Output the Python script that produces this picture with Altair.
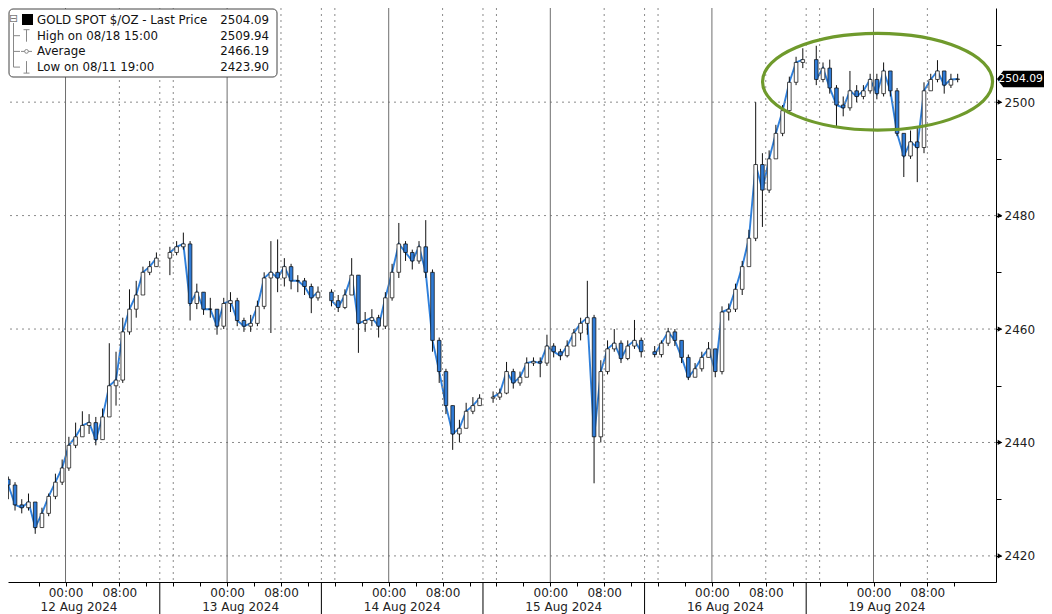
import altair as alt
import pandas as pd

# ---------------- data (hourly candles) ----------------
SESSIONS = ["12 Aug 2024", "13 Aug 2024", "14 Aug 2024", "15 Aug 2024", "16 Aug 2024", "19 Aug 2024"]
# hour offsets of each session start (15:00 the day before), weekend removed
SESSION_START_H = [0, 24, 48, 72, 96, 120]
FIRST_OPEN = 2433.5

CLOSE_12 = [2432.5, 2429.0, 2428.5, 2429.5, 2425.0, 2427.5, 2430.5, 2433.0, 2435.5, 2439.5, 2441.0, 2443.0,
            2443.5, 2440.5, 2444.5, 2450.0, 2451.0, 2459.5, 2463.5, 2466.0, 2470.0, 2471.0, 2472.5]
HIGH_12 = [2434, 2433, 2430, 2431, 2429.5, 2428.5, 2431, 2434.5, 2437, 2441, 2443.5, 2445.5,
           2445, 2444.5, 2446, 2457.5, 2456, 2462, 2467, 2468.5, 2471, 2472, 2473.5]
LOW_12 = [2430, 2428, 2427.5, 2428, 2423.9, 2425, 2427, 2430, 2432.5, 2435, 2439, 2441,
          2441.5, 2439.5, 2440.5, 2444.5, 2446.5, 2450.5, 2459, 2462, 2466, 2469.5, 2471]

CLOSE_13 = [2473.5, 2474.5, 2475.0, 2464.5, 2466.5, 2463.5, 2463.5, 2460.5, 2464.5, 2465.0, 2461.5, 2460.5,
            2461.0, 2464.0, 2469.0, 2470.0, 2469.0, 2471.0, 2468.5, 2468.5, 2467.5, 2465.5, 2466.5]
HIGH_13 = [2474.5, 2475.5, 2477.0, 2475.5, 2468, 2466.5, 2465.5, 2463.5, 2465.5, 2466.5, 2465.5, 2462,
           2462.5, 2465, 2470, 2475.5, 2475.8, 2472.5, 2471.5, 2469.5, 2469, 2468, 2467.5]
LOW_13 = [2469.5, 2473, 2474, 2461.5, 2463.5, 2462.5, 2462, 2459, 2460, 2463, 2460.5, 2459.5,
          2459.5, 2460.5, 2463.5, 2459.3, 2466.5, 2467.5, 2467, 2466.5, 2466, 2462.8, 2465]

CLOSE_14 = [2465.0, 2463.8, 2466.0, 2469.5, 2461.0, 2461.5, 2462.0, 2460.5, 2465.5, 2470.0, 2475.0, 2473.5,
            2472.0, 2474.5, 2470.0, 2458.0, 2452.5, 2446.5, 2441.5, 2442.5, 2445.5, 2446.5, 2447.8]
HIGH_14 = [2467, 2466, 2467, 2472.5, 2469.5, 2463, 2463.5, 2462.5, 2466.5, 2471.5, 2478.7, 2475.5,
           2474, 2475.5, 2479.2, 2470.5, 2458.5, 2453, 2446.5, 2444, 2447, 2448, 2448.5]
LOW_14 = [2464, 2463, 2463.5, 2466, 2455.8, 2459.5, 2460.5, 2458.5, 2460, 2465, 2469, 2472,
          2470.5, 2471.5, 2469, 2456, 2450.5, 2445, 2438.7, 2440, 2442.5, 2445, 2446.5]

CLOSE_15 = [2448.0, 2448.7, 2452.5, 2450.5, 2451.5, 2454.0, 2454.3, 2454.0, 2457.0, 2456.0, 2455.3, 2457.0,
            2459.3, 2461.0, 2462.0, 2441.0, 2452.5, 2456.5, 2457.5, 2454.8, 2457.0, 2458.0, 2456.0]
HIGH_15 = [2449, 2449.5, 2454.2, 2453, 2452.5, 2455, 2455, 2455, 2459, 2457.5, 2456.5, 2458,
           2460, 2462, 2468.5, 2462.5, 2454.5, 2458, 2460, 2458, 2458, 2461.6, 2458.5]
LOW_15 = [2447, 2447.5, 2448.5, 2449.5, 2450, 2451.5, 2453.5, 2451.5, 2453.5, 2455, 2454.5, 2455,
          2457, 2458, 2459, 2432.8, 2440, 2452, 2456, 2454, 2454.5, 2456.5, 2455]

CLOSE_16 = [2455.5, 2457.5, 2459.5, 2458.0, 2455.0, 2451.5, 2453.0, 2455.0, 2456.5, 2452.5, 2463.0, 2463.5,
            2467.0, 2471.0, 2476.0, 2489.0, 2484.5, 2490.0, 2494.5, 2498.5, 2503.5, 2507.0, 2507.5]
HIGH_16 = [2457, 2458, 2460.2, 2460, 2458, 2455.5, 2454, 2456, 2457.7, 2456.5, 2464, 2464.5,
           2468, 2472, 2477.5, 2500.0, 2491, 2491.5, 2496, 2499.5, 2504.5, 2508, 2509.5]
LOW_16 = [2455, 2455, 2457, 2457, 2454, 2451, 2451.5, 2452.5, 2455, 2451.5, 2452, 2461.5,
          2463, 2466, 2471, 2475.5, 2478.0, 2484, 2490, 2494, 2498, 2503, 2506]

CLOSE_19 = [2504.0, 2506.0, 2502.5, 2499.5, 2499.0, 2502.0, 2501.0, 2502.0, 2504.0, 2501.5, 2505.5,
            2502.0, 2494.5, 2490.5, 2493.0, 2492.0, 2502.0, 2504.0, 2505.5, 2503.0, 2504.0, 2504.09]
HIGH_19 = [2509.94, 2507, 2507.5, 2503, 2501, 2505.5, 2503, 2503, 2505, 2505, 2507,
           2505.5, 2502.5, 2494.5, 2495, 2495.5, 2503.5, 2505, 2507.4, 2505.5, 2505, 2505]
LOW_19 = [2503, 2503.5, 2501.5, 2495.6, 2497.5, 2498.5, 2500, 2500.5, 2501.5, 2500.5, 2501,
          2501, 2494, 2486.8, 2490, 2485.9, 2491, 2502, 2503.5, 2501.5, 2502.5, 2503.5]

LAST_PRICE = 2504.09
LEGEND_LABELS = ["GOLD SPOT $/OZ - Last Price", "High on 08/18 15:00", "Average", "Low on 08/11 19:00"]
LEGEND_VALUES = ["2504.09", "2509.94", "2466.19", "2423.90"]
Y_TICKS = [2420, 2430, 2440, 2450, 2460, 2470, 2480, 2490, 2500, 2510]
Y_LABELED = [2420, 2440, 2460, 2480, 2500]
ELLIPSE_CENTER = {"h": 129.6, "v": 2503.6}

# ---------------- build tables ----------------
closes = [CLOSE_12, CLOSE_13, CLOSE_14, CLOSE_15, CLOSE_16, CLOSE_19]
highs = [HIGH_12, HIGH_13, HIGH_14, HIGH_15, HIGH_16, HIGH_19]
lows = [LOW_12, LOW_13, LOW_14, LOW_15, LOW_16, LOW_19]
rows = []
prev = FIRST_OPEN
for k, (cl, hl, ll) in enumerate(zip(closes, highs, lows)):
    for i, (c, hi, lo) in enumerate(zip(cl, hl, ll)):
        rows.append(dict(h=SESSION_START_H[k] + i + 0.5, o=prev, c=c, hi=hi, lo=lo, s=k))
        prev = c
df = pd.DataFrame(rows)

X_MIN, X_MAX = 1.2, 146.45
Y_MIN, Y_MAX = 2415.4, 2516.6
W, H = 988, 574
XS = alt.Scale(domain=[X_MIN, X_MAX], nice=False, zero=False)
YS = alt.Scale(domain=[Y_MIN, Y_MAX], nice=False, zero=False)
FONT = "DejaVu Sans"

midnights = [s + 9 for s in SESSION_START_H]
dotted_v = [s + j for s in SESSION_START_H for j in (1, 17)] + [s + 23 for s in SESSION_START_H[:-1]]
dotted_v = [v for v in dotted_v if X_MIN < v < 143]
separators = [s + 23 for s in SESSION_START_H[:-1]]
ticks4h = [s + j for s in SESSION_START_H for j in (1, 5, 9, 13, 17, 21) if X_MIN < s + j < 143]

x_axis = alt.Axis(values=ticks4h, title=None, grid=False, tickSize=4, labelPadding=1,
                  labelExpr="((datum.value + 15) % 24 == 0) ? '00:00' : (((datum.value + 15) % 24 == 8) ? '08:00' : '')",
                  labelOverlap=False, labelFlush=False, domainColor="black", tickColor="black",
                  orient="bottom", labelFont=FONT, labelFontSize=12, labelColor="#222")
y_axis = alt.Axis(orient="right", values=Y_TICKS, title=None, grid=False, tickSize=5, labelPadding=3,
                  labelExpr="datum.value % 20 == 0 ? datum.label : ''", format="d",
                  labelOverlap=False, domainColor="black", tickColor="black",
                  labelFont=FONT, labelFontSize=12, labelColor="#222")


def X(field):
    return alt.X(field, scale=XS, axis=x_axis)


def Y(field):
    return alt.Y(field, scale=YS, axis=y_axis)


# grid layers
hgrid = alt.Chart(pd.DataFrame({"v": Y_LABELED})).mark_rule(
    color="#8a8a8a", strokeDash=[2, 4], strokeWidth=1).encode(y=Y("v:Q"))
vsolid = alt.Chart(pd.DataFrame({"h": midnights})).mark_rule(color="#6e6e6e", strokeWidth=1).encode(x=X("h:Q"))
vdot = alt.Chart(pd.DataFrame({"h": dotted_v})).mark_rule(
    color="#8a8a8a", strokeDash=[2, 4], strokeWidth=1).encode(x=X("h:Q"))
sep = alt.Chart(pd.DataFrame({"h": separators})).mark_rule(color="black", strokeWidth=1).encode(
    x=X("h:Q"), y=alt.value(H), y2=alt.value(H + 32))

base = alt.Chart(df)
line = base.mark_line(color="#2f80dc", strokeWidth=1.9, clip=True).encode(
    x=X("h:Q"), y=Y("c:Q"), detail="s:N")
wick = base.mark_rule(color="#111", strokeWidth=1, clip=True).encode(
    x=X("h:Q"), y=Y("lo:Q"), y2="hi:Q")
body = base.mark_bar(size=3.6, stroke="#111", strokeWidth=0.75, clip=True).encode(
    x=X("h:Q"), y=Y("o:Q"), y2="c:Q",
    fill=alt.condition("datum.c >= datum.o", alt.value("white"), alt.value("#2f7bd6")))

dates = alt.Chart(pd.DataFrame({"h": [s + 11 for s in SESSION_START_H], "t": SESSIONS})).mark_text(
    font=FONT, fontSize=12, color="#222", baseline="middle").encode(
    x=X("h:Q"), y=alt.value(H + 25), text="t:N")

tri = alt.Chart(pd.DataFrame({"v": Y_LABELED})).mark_point(
    shape="triangle-right", filled=True, size=28, color="black", opacity=1).encode(
    x=alt.value(W + 4), y=Y("v:Q"))

ellipse = alt.Chart(pd.DataFrame([ELLIPSE_CENTER])).mark_point(
    shape="M -1 0 A 1 0.42 0 1 1 1 0 A 1 0.42 0 1 1 -1 0 Z",
    size=230 * 230, filled=False, stroke="#6f9a2c", strokeWidth=3.2, opacity=1).encode(
    x=X("h:Q"), y=Y("v:Q"))

last_df = pd.DataFrame({"v": [LAST_PRICE], "t": [f"{LAST_PRICE:.2f}"]})
last_box = alt.Chart(last_df).mark_point(
    shape="M -1 0 L -0.76 -0.32 L 1 -0.32 L 1 0.32 L -0.76 0.32 Z", size=52 * 52,
    filled=True, color="black", opacity=1).encode(
    x=alt.value(W + 27), y=Y("v:Q"))
last_txt = alt.Chart(last_df).mark_text(font=FONT, fontSize=10.8, color="white", baseline="middle",
                                        align="right").encode(
    x=alt.value(W + 47), y=Y("v:Q"), text="t:N")

# ---------------- legend box (top-left) ----------------
ROW_Y = [12 + 15.7 * i for i in range(4)]
one = pd.DataFrame({"a": [1]})
legend_layers = [
    alt.Chart(one).mark_rect(fill="white", stroke="#444", strokeWidth=1, cornerRadius=4).encode(
        x=alt.value(1), x2=alt.value(269), y=alt.value(1), y2=alt.value(69)),
    alt.Chart(one).mark_rect(fill="black").encode(
        x=alt.value(14), x2=alt.value(25), y=alt.value(6), y2=alt.value(17)),
]
for lab, val, ry in zip(LEGEND_LABELS, LEGEND_VALUES, ROW_Y):
    legend_layers.append(alt.Chart(one).mark_text(
        font=FONT, fontSize=11.8, color="#111", align="left", baseline="middle", text=lab).encode(
        x=alt.value(29), y=alt.value(ry)))
    legend_layers.append(alt.Chart(one).mark_text(
        font=FONT, fontSize=11.8, color="#111", align="right", baseline="middle", text=val).encode(
        x=alt.value(261), y=alt.value(ry)))
r1, r2, r3 = ROW_Y[1], ROW_Y[2], ROW_Y[3]
segs = [(5.5, 5.5, 15, r3), (5.5, 12, r1, r1), (5.5, 12, r2, r2), (5.5, 12, r3, r3),
        (15.5, 21.5, r1 - 6, r1 - 6), (18.5, 18.5, r1 - 6, r1 + 6),
        (13, 24, r2, r2),
        (18.5, 18.5, r3 - 6, r3 + 6), (15.5, 21.5, r3 + 6, r3 + 6)]
for x1, x2, y1, y2 in segs:
    legend_layers.append(alt.Chart(one).mark_rule(color="#888", strokeWidth=1).encode(
        x=alt.value(x1), x2=alt.value(x2), y=alt.value(y1), y2=alt.value(y2)))
legend_layers.append(alt.Chart(one).mark_point(
    shape="circle", size=14, filled=True, fill="white", stroke="#888", strokeWidth=1, opacity=1).encode(
    x=alt.value(18.5), y=alt.value(r2)))
legend_layers.append(alt.Chart(one).mark_text(
    text="\u229f", font=FONT, fontSize=11, color="#777", baseline="middle").encode(
    x=alt.value(5.5), y=alt.value(11)))

chart = alt.layer(
    line, hgrid, vsolid, vdot, sep, wick, body, dates, tri, ellipse, last_box, last_txt,
    *legend_layers
).properties(
    width=W, height=H, background="white",
    padding={"left": 0, "top": 0, "right": 48, "bottom": 32},
    autosize=alt.AutoSizeParams(type="none"),
).configure_view(stroke=None)

chart.save("out.html", embed_options={"renderer": "svg", "actions": False})
